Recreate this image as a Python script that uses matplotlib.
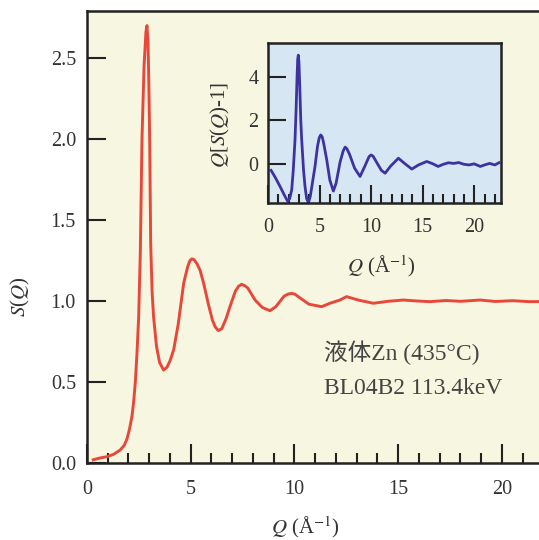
import matplotlib
matplotlib.use('Agg')
import matplotlib.pyplot as plt
from matplotlib.ticker import MultipleLocator

plt.rcParams['font.family'] = ['Liberation Serif', 'Noto Sans CJK JP']
plt.rcParams['mathtext.fontset'] = 'stix'

# S(Q) of liquid Zn
q_main = [0.3, 0.6, 1.0, 1.3, 1.6, 1.8, 1.93, 2.05, 2.17, 2.25, 2.33, 2.41, 2.49,
          2.57, 2.65, 2.75, 2.84, 2.89, 2.94, 2.98, 3.02, 3.07, 3.14, 3.21, 3.35,
          3.5, 3.69, 3.85, 4.0, 4.18, 4.4, 4.66, 4.85, 4.96, 5.06, 5.16, 5.3, 5.45,
          5.62, 5.85, 6.05, 6.18, 6.33, 6.5, 6.7, 6.89, 7.15, 7.3, 7.45, 7.6, 7.75,
          8.1, 8.45, 8.82, 9.1, 9.5, 9.7, 9.86, 10.02, 10.2, 10.7, 11.31, 11.71,
          12.19, 12.51, 13.1, 13.8, 14.5, 15.24, 15.9, 16.53, 17.3, 18.0, 18.94,
          19.7, 20.5, 21.3, 21.67, 22.2]
s_main = [0.02, 0.03, 0.04, 0.055, 0.08, 0.11, 0.15, 0.21, 0.29, 0.38, 0.5, 0.68, 0.9,
          1.3, 2.0, 2.45, 2.66, 2.70, 2.6, 2.35, 2.0, 1.35, 1.05, 0.9, 0.72,
          0.62, 0.574, 0.59, 0.63, 0.70, 0.86, 1.11, 1.21, 1.25, 1.26, 1.255, 1.23, 1.19,
          1.11, 0.98, 0.88, 0.84, 0.817, 0.83, 0.89, 0.965, 1.06, 1.09, 1.103, 1.095, 1.08,
          1.006, 0.96, 0.94, 0.965, 1.03, 1.043, 1.047, 1.042, 1.025, 0.98, 0.965, 0.986,
          1.006, 1.027, 1.005, 0.986, 0.998, 1.006, 1.0, 0.996, 1.003, 0.998, 1.006,
          0.997, 1.002, 0.996, 0.996, 1.0]

# Q[S(Q)-1]
q_inset = [0.3, 0.7, 1.17, 1.6, 1.91, 2.1, 2.3, 2.45, 2.62, 2.72, 2.82, 2.88, 2.94,
           3.0, 3.08, 3.18, 3.27, 3.45, 3.59, 3.75, 3.92, 4.1, 4.3, 4.56, 4.8, 4.97,
           5.11, 5.25, 5.4, 5.7, 6.0, 6.34, 6.6, 7.0, 7.3, 7.48, 7.65, 7.9, 8.4,
           8.93, 9.4, 9.8, 10.0, 10.2, 10.5, 11.0, 11.36, 11.9, 12.65, 13.3, 13.95,
           14.6, 15.4, 16.0, 16.5, 17.0, 17.5, 18.0, 18.5, 19.0, 19.5, 20.0, 20.6,
           21.0, 21.5, 22.0, 22.4]
f_inset = [-0.3, -0.62, -1.04, -1.45, -1.72, -1.6, -1.2, -0.3, 1.1, 2.4, 4.0, 4.8, 5.0,
           4.7, 3.6, 2.0, 1.1, -0.3, -1.04, -1.6, -1.78, -1.5, -0.9, -0.12, 0.8, 1.2,
           1.33, 1.25, 0.95, 0.18, -0.75, -1.25, -0.9, 0.1, 0.6, 0.77, 0.7, 0.45, -0.2,
           -0.58, -0.1, 0.33, 0.41, 0.35, 0.1, -0.3, -0.43, -0.1, 0.26, 0.0, -0.24,
           -0.05, 0.11, 0.0, -0.12, -0.02, 0.05, 0.02, 0.06, -0.02, -0.05, 0.0, -0.12,
           -0.05, 0.02, -0.05, 0.05]

main_ticks = [0.0, 0.5, 1.0, 1.5, 2.0, 2.5]
inset_ticks = [0, 2, 4]

text_col = '#333333'
W, H = 539, 540
fig = plt.figure(figsize=(5.39, 5.40), dpi=100)

ax = fig.add_axes([0.1614, 0.1426, 0.8546, 0.837])
ax.set_facecolor('#f7f6e1')
ax.plot(q_main, s_main, color='#e8473a', lw=2.1, solid_joinstyle='round')
ax.set_xlim(0, 22.2)
ax.set_ylim(0, 2.79)
ax.set_yticks(main_ticks)
ax.set_yticklabels([f'{t:.1f}' for t in main_ticks])
ax.xaxis.set_major_locator(MultipleLocator(5))
ax.xaxis.set_minor_locator(MultipleLocator(1))
ax.tick_params(axis='both', which='major', direction='in', length=14, width=1.5,
               labelsize=14.5, labelcolor=text_col, color='#222222')
ax.tick_params(axis='x', which='major', pad=12)
ax.tick_params(axis='y', which='major', pad=8)
ax.tick_params(axis='x', which='minor', direction='in', length=7, width=1.5, color='#222222')
ax.tick_params(top=False, right=False, which='both')
for sp in ax.spines.values():
    sp.set_linewidth(1.8)
    sp.set_color('#222222')

fig.text(20 / W, 1 - 297 / H, r'$S$($Q$)', rotation=90, ha='center', va='center',
         fontsize=15, color=text_col)
fig.text(305 / W, 1 - 527 / H, r'$Q$ (Å$^{-1}$)', ha='center', va='center',
         fontsize=15, color=text_col)

fig.text(324 / W, 1 - 353 / H, '液体Zn (435°C)', fontsize=17, color='#444444',
         ha='left', va='center')
fig.text(324 / W, 1 - 388 / H, 'BL04B2 113.4keV', fontsize=17, color='#444444',
         ha='left', va='center')

# inset
ins = fig.add_axes([0.4972, 0.6241, 0.4323, 0.2963])
ins.set_facecolor('#d6e6f2')
ins.plot(q_inset, f_inset, color='#3d33a0', lw=2.0, solid_joinstyle='round')
ins.set_xlim(0, 22.6)
ins.set_ylim(-1.8, 5.56)
ins.set_yticks(inset_ticks)
ins.xaxis.set_major_locator(MultipleLocator(5))
ins.xaxis.set_minor_locator(MultipleLocator(1))
ins.tick_params(axis='both', which='major', direction='in', length=13, width=1.5,
                labelsize=14.5, labelcolor=text_col, color='#222222')
ins.tick_params(axis='x', which='major', pad=11)
ins.tick_params(axis='y', which='major', pad=7)
ins.tick_params(axis='x', which='minor', direction='in', length=6.5, width=1.5, color='#222222')
ins.tick_params(top=False, right=False, which='both')
for sp in ins.spines.values():
    sp.set_linewidth(1.8)
    sp.set_color('#222222')

fig.text(220 / W, 1 - 125 / H, r'$Q$[$S$($Q$)-1]', rotation=90, ha='center', va='center',
         fontsize=15, color=text_col)
fig.text(381 / W, 1 - 266 / H, r'$Q$ (Å$^{-1}$)', ha='center', va='center',
         fontsize=15, color=text_col)

fig.savefig('out.png', dpi=100)
